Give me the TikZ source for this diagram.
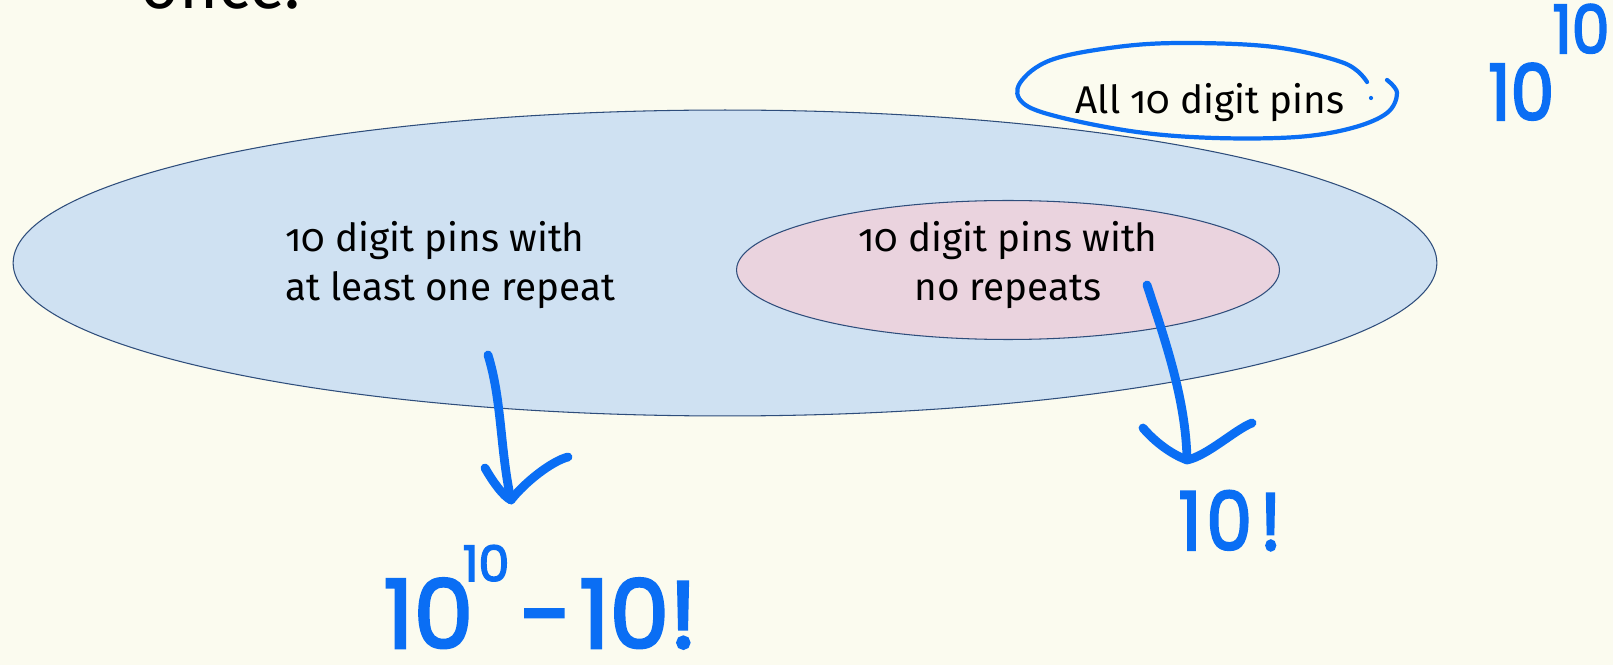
\documentclass[tikz,border=0pt]{standalone}
\usepackage{fontspec}
\setmainfont{Fira Sans}[Numbers=OldStyle]
\newfontfamily\handfont{Poppins}[FakeBold=3]
\usepackage{tikz}
\usetikzlibrary{shapes}
\definecolor{paper}{HTML}{FBFBEF}
\definecolor{setblue}{HTML}{CFE1F2}
\definecolor{setpink}{HTML}{EAD3DE}
\definecolor{setline}{HTML}{2E4D7B}
\definecolor{pen}{HTML}{0A6EF4}

\begin{document}
\begin{tikzpicture}[x=0.02cm, y=-0.02cm]
\tikzstyle{venn}    = [ellipse, draw=setline, line width=0.6pt, inner sep=0pt]
\tikzstyle{settext} = [font=\fontsize{22}{28}\selectfont, inner sep=0pt]
\tikzstyle{ink}     = [draw=pen, line width=5pt, line cap=round, line join=round]
\tikzstyle{scrawl}  = [text=pen, inner sep=0pt, font=\handfont]
\fill[paper] (0,0) rectangle (1613,665);
\useasboundingbox (0,0) rectangle (1613,665);
\node [font=\fontsize{38}{38}\selectfont, anchor=base west, inner sep=0pt](once) at (140,9) {once.};
 %%Sets
\node [venn, fill=setblue, minimum width=28.48cm, minimum height=6.12cm](allrep) at (725,263) {};
\node [venn, fill=setpink, minimum width=10.86cm, minimum height=2.78cm](norep) at (1008,270) {};
\node [settext, align=left, anchor=west](reptext) at (285,265) {10 digit pins with\\at least one repeat};
\node [settext, align=center](noreptext) at (1008,265) {10 digit pins with\\no repeats};
\node [settext](alltext) at (1210,103) {All 10 digit pins};
 %%Hand notes
\draw [pen, line width=2.4pt, line cap=round] plot [smooth, tension=0.6] coordinates {(1367,82) (1344,63) (1274,47) (1184,43) (1117,47) (1051,60) (1020,83) (1023,103) (1059,117) (1137,132) (1215,138) (1297,137) (1352,128) (1387,113) (1397,93) (1387,80)};
\fill [pen] (1371,98) circle (1.2pt);
\node [scrawl, anchor=base west](allcount) at (1488,120) {\fontsize{44}{44}\selectfont\scalebox{0.9}[1]{10}\kern-1pt\raisebox{38pt}{\fontsize{38}{38}\selectfont\scalebox{0.9}[1]{10}}};
\node [scrawl, anchor=base west](repcount) at (383,648) {\fontsize{54}{54}\selectfont 10\kern-6pt\raisebox{38pt}{\fontsize{28}{28}\selectfont 10}\kern6pt-\kern4pt10!};
\node [scrawl, anchor=base west](norepcount) at (1178,550) {\fontsize{46}{46}\selectfont\scalebox{0.9}[1]{1\kern3pt0\kern5pt!}};
 %%Arrows
\coordinate (lfrom) at (488,355);
\coordinate (ltip) at (511,500);
\coordinate (rfrom) at (1147,285);
\coordinate (rtip) at (1187,460);
\draw [ink] (lfrom) .. controls (502,400) and (500,450) .. (ltip);
\draw [ink] (ltip) ++(-26,-32) .. controls +(8,14) and +(-8,-4) .. (ltip) .. controls +(14,-18) and +(-16,4) .. ++(57,-43);
\draw [ink] (rfrom) .. controls (1165,340) and (1186,400) .. (rtip);
\draw [ink] (rtip) ++(-44,-32) .. controls +(12,14) and +(-16,-6) .. (rtip) .. controls +(20,-4) and +(-16,6) .. ++(65,-37);
\end{tikzpicture}
\end{document}
